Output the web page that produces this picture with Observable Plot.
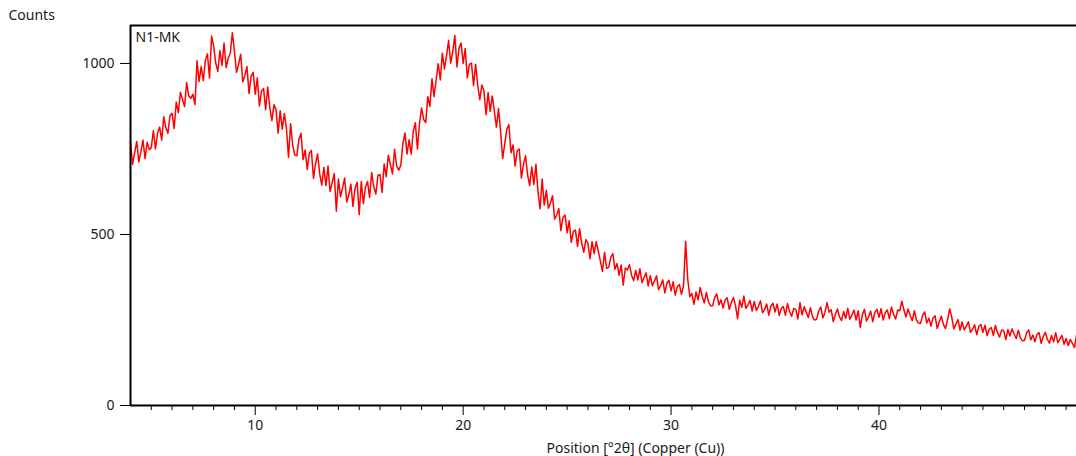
<!DOCTYPE html>
<html>
<head>
<meta charset="utf-8">
<script src="https://cdn.jsdelivr.net/npm/d3@7"></script>
<script src="https://cdn.jsdelivr.net/npm/@observablehq/plot@0.6"></script>
<style>
  html, body { margin: 0; padding: 0; background: #fff; }
  #chart svg { display: block; }
</style>
</head>
<body>
<div id="chart"></div>
<script>
// ---- Data, step 0.1 °2θ ----
const stepAngle = 0.1;

const startA = 4;   // 4.0 – 13.9
const countsA = [
  770, 705, 739, 772, 712, 742, 776, 722, 770, 748,
  754, 804, 750, 796, 814, 776, 844, 812, 796, 848,
  854, 810, 887, 856, 916, 895, 874, 944, 905, 898,
  910, 880, 1008, 947, 991, 950, 1009, 1028, 957, 1080,
  1050, 1001, 977, 1038, 994, 1060, 988, 1016, 1030, 1090,
  1035, 974, 998, 1027, 946, 965, 991, 912, 963, 974,
  910, 958, 876, 919, 927, 865, 931, 872, 833, 879,
  865, 796, 862, 808, 854, 810, 725, 824, 761, 733,
  730, 778, 796, 719, 747, 690, 738, 746, 664, 707,
  735, 677, 644, 696, 643, 700, 626, 652, 678, 568
];

const startB = 14;  // 14.0 – 23.9
const countsB = [
  662, 610, 636, 665, 595, 616, 647, 582, 636, 653,
  558, 655, 590, 638, 655, 608, 681, 640, 618, 673,
  675, 623, 706, 669, 732, 705, 677, 749, 701, 688,
  702, 765, 797, 735, 777, 735, 801, 827, 750, 824,
  870, 836, 827, 903, 874, 955, 903, 951, 999, 952,
  1030, 984, 1023, 1067, 1001, 1035, 1082, 990, 1045, 1060,
  1000, 1044, 958, 997, 1001, 935, 998, 936, 894, 937,
  920, 850, 915, 860, 905, 860, 814, 868, 802, 722,
  765, 808, 821, 739, 762, 700, 745, 750, 665, 705,
  730, 674, 643, 697, 646, 705, 624, 575, 662, 586
];

const startC = 24;  // 24.0 – 33.9
const countsC = [
  629, 577, 593, 613, 545, 557, 576, 511, 550, 557,
  505, 540, 477, 509, 513, 465, 517, 475, 448, 485,
  475, 429, 479, 444, 479, 451, 422, 392, 448, 401,
  404, 433, 444, 398, 415, 381, 411, 352, 402, 396,
  412, 381, 365, 395, 367, 400, 359, 374, 388, 350,
  380, 350, 364, 379, 339, 351, 367, 329, 358, 366,
  335, 362, 323, 347, 354, 325, 350, 480, 370, 318,
  328, 296, 332, 309, 345, 318, 300, 331, 303, 292,
  292, 316, 326, 294, 309, 285, 309, 315, 281, 301,
  316, 292, 254, 308, 287, 320, 284, 294, 307, 276
];

const startD = 34;  // 34.0 – 43.9
const countsD = [
  304, 278, 290, 306, 271, 281, 297, 264, 291, 299,
  273, 297, 263, 284, 289, 264, 298, 274, 261, 284,
  281, 253, 301, 265, 289, 273, 257, 286, 260, 250,
  252, 277, 288, 256, 272, 301, 273, 280, 245, 266,
  282, 259, 248, 275, 255, 284, 252, 265, 279, 250,
  277, 228, 265, 281, 247, 259, 276, 245, 272, 281,
  258, 283, 250, 272, 279, 254, 288, 267, 253, 279,
  277, 305, 279, 259, 282, 263, 248, 277, 250, 241,
  240, 264, 274, 241, 255, 232, 256, 262, 225, 245,
  261, 237, 225, 252, 282, 258, 224, 238, 251, 220
];

const startE = 44;  // 44.0 – 49.5
const countsE = [
  244, 221, 232, 245, 214, 223, 236, 207, 231, 237,
  214, 235, 204, 223, 228, 205, 234, 213, 200, 221,
  218, 193, 222, 203, 224, 209, 196, 220, 198, 189,
  191, 212, 221, 192, 206, 186, 208, 213, 182, 201,
  214, 193, 182, 205, 186, 213, 184, 194, 205, 179,
  196, 175, 193, 182, 170, 205
];

const seriesName = "N1-MK";
const xLabel = "Position [°2θ] (Copper (Cu))";
const yLabel = "Counts";
const xDomain = [4, 49.5];
const yDomain = [0, 1111];
const xMajorTicks = [10, 20, 30, 40];
const xMinorTicks = [5, 6, 7, 8, 9, 11, 12, 13, 14, 15, 16, 17, 18, 19, 21, 22, 23, 24, 25, 26, 27, 28, 29,
                     31, 32, 33, 34, 35, 36, 37, 38, 39, 41, 42, 43, 44, 45, 46, 47, 48, 49];
const yTicks = [0, 500, 1000];

// ---- Build table ----
const blocks = [[startA, countsA], [startB, countsB], [startC, countsC], [startD, countsD], [startE, countsE]];
const data = [];
for (const [start, vals] of blocks) {
  vals.forEach((c, i) => data.push({angle: Math.round((start + i * stepAngle) * 100) / 100, counts: c}));
}

const chart = Plot.plot({
  width: 1076,
  height: 456,
  marginLeft: 130,
  marginRight: 0,
  marginTop: 25,
  marginBottom: 51,
  x: {domain: xDomain},
  y: {domain: yDomain},
  style: {fontFamily: "'Noto Sans', 'Open Sans', sans-serif", fontSize: "14px", color: "#1a1a1a", background: "#fff"},
  marks: [
    Plot.line(data, {x: "angle", y: "counts", stroke: "#ff0000", strokeWidth: 1.5}),
    Plot.ruleY([yDomain[0]], {stroke: "#000", strokeWidth: 2}),
    Plot.ruleY([yDomain[1]], {stroke: "#000", strokeWidth: 2}),
    Plot.ruleX([xDomain[0]], {stroke: "#000", strokeWidth: 2}),
    Plot.axisX({ticks: xMajorTicks, tickSize: 10, tickPadding: 5, label: null, stroke: "#000", tickFormat: d => String(d)}),
    Plot.axisX({ticks: xMinorTicks, tickSize: 5, label: null, stroke: "#000", tickFormat: () => ""}),
    Plot.axisY({ticks: yTicks, tickSize: 10, tickPadding: 6, label: null, stroke: "#000", tickFormat: d => String(d)}),
    Plot.text([seriesName], {text: d => d, frameAnchor: "top-left", lineAnchor: "middle", dx: 5, dy: 12, textAnchor: "start", fill: "#1a1a1a"}),
    Plot.text([yLabel], {text: d => d, frameAnchor: "top-left", lineAnchor: "middle", dx: -122, dy: -10, textAnchor: "start", fill: "#1a1a1a"}),
    Plot.text([xLabel], {text: d => d, frameAnchor: "bottom", lineAnchor: "middle", dx: 32, dy: 43, fill: "#1a1a1a"})
  ]
});
document.getElementById("chart").appendChild(chart);
</script>
</body>
</html>
